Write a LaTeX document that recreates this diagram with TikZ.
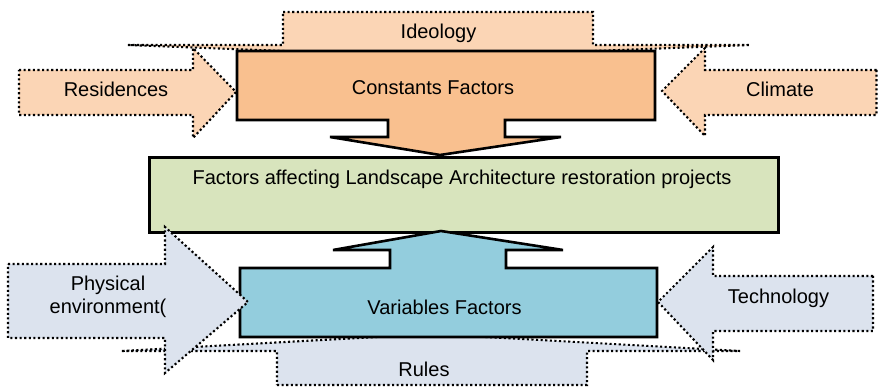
\documentclass[tikz,border=0pt]{standalone}
\usepackage{fontspec}
\setmainfont{Liberation Sans}
\begin{document}
\begin{tikzpicture}[x=1pt,y=-1pt,
  dotline/.style={line width=2.1pt, dash pattern=on 2.1pt off 2.5pt, line join=miter},
  solidline/.style={line width=2.6pt, line join=miter},
  warmin/.style={dotline, fill=peachlight},
  coolin/.style={dotline, fill=greyblue},
  lbl/.style={font=\fontsize{20}{22.5}\selectfont, anchor=base, inner sep=0pt, align=center}
]
\definecolor{peachlight}{HTML}{FBD5B5}
\definecolor{peachmid}{HTML}{F9C08F}
\definecolor{olivelight}{HTML}{D8E4BD}
\definecolor{aquamid}{HTML}{93CDDD}
\definecolor{greyblue}{HTML}{DCE3EE}

\useasboundingbox (0,0) rectangle (878,387);

% arrows feeding in from above and below, behind the factor boxes
\draw[warmin] (283,12) -- (593,12) -- (593,45) -- (750,45) -- (439,57)
  -- (128,45) -- (283,45) -- cycle;
\draw[coolin] (277,385) -- (587,385) -- (587,351) -- (740,351) -- (431,334)
  -- (121,351) -- (277,351) -- cycle;

% central box
\node[solidline, draw, fill=olivelight, minimum width=629pt, minimum height=75pt,
  inner sep=0pt, anchor=north west] (core) at (148,156) {};

% constant factors: down-pointing callout
\draw[solidline, fill=peachmid] (237,51) -- (655,51) -- (655,120) -- (505,120)
  -- (505,137) -- (561,137) -- (440,155) -- (330,137) -- (388,137)
  -- (388,120) -- (237,120) -- cycle;
% variable factors: up-pointing callout
\draw[solidline, fill=aquamid] (240,268) -- (390,268) -- (390,250) -- (333,250)
  -- (441,231) -- (563,250) -- (506,250) -- (506,268) -- (657,268)
  -- (657,337) -- (240,337) -- cycle;

% side arrows
\draw[warmin] (19,70) -- (193,70) -- (193,48) -- (236,92) -- (193,138)
  -- (193,115) -- (19,115) -- cycle;
\draw[warmin] (876.5,70) -- (705,70) -- (705,48) -- (662,91) -- (705,136)
  -- (705,115) -- (876.5,115) -- cycle;
\draw[coolin] (8,264) -- (165,264) -- (165,227) -- (248,302) -- (165,373)
  -- (165,338) -- (8,338) -- cycle;
\draw[coolin] (873,276) -- (713,276) -- (713,247) -- (658,302) -- (713,360)
  -- (713,331) -- (873,331) -- cycle;

% labels
\node[lbl] (ideology) at (438.5,39) {Ideology};
\node[lbl] (constants) at (433,95) {Constants Factors};
\node[lbl] (residences) at (116,97) {Residences};
\node[lbl] (climate) at (780,97) {Climate};
\node[lbl] (coretext) at (462,185) {Factors affecting Landscape Architecture restoration projects};
\node[lbl, anchor=center] (physical) at (108,297) {Physical\\environment(};
\node[lbl] (variables) at (444.5,314) {Variables Factors};
\node[lbl] (technology) at (778.5,304) {Technology};
\node[lbl] (rules) at (424,376) {Rules};
\end{tikzpicture}
\end{document}
